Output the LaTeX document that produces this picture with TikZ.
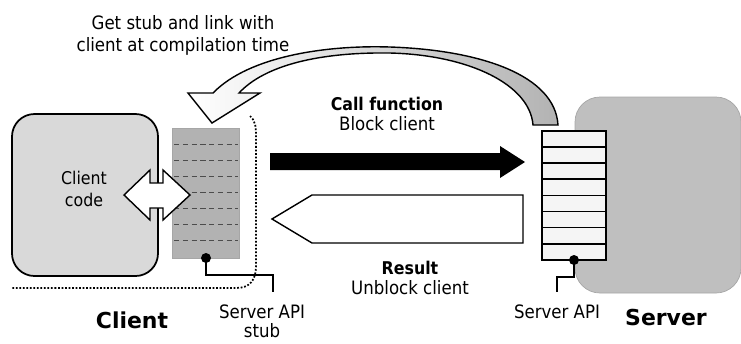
\documentclass[tikz,border=0pt]{standalone}
\usepackage{fontspec}
\setmainfont{DejaVu Sans Condensed}
\newfontfamily\headfont{DejaVu Sans}
\usepackage{tikz}
\usetikzlibrary{calc}

\tikzset{
	txt/.style={font=\fontsize{10.5}{12}\selectfont, align=center, inner sep=0pt},
	boldtxt/.style={font=\bfseries\fontsize{10}{12}\selectfont, inner sep=0pt},
	bigtxt/.style={font=\headfont\bfseries\fontsize{12.5}{14}\selectfont, inner sep=0pt},
	apirow/.style={fill=gray!8, draw=black, line width=1pt},
	pin/.style={line width=0.6pt},
}

\begin{document}
\begin{tikzpicture}[x=0.02cm, y=-0.02cm]
		%%%%% START %%%%%
		\useasboundingbox (0,0) rectangle (741,343);
		
		% server side
		\draw[fill=gray!50, draw=gray!70, rounded corners=0.5cm] (575,97) rectangle (741,293);
		\foreach \i in {0,...,7}
			\draw[apirow] (542,{131+16.1*\i}) rectangle (606,{131+16.1*(\i+1)});
		
		% client side
		\draw[fill=gray!30, line width=1pt, rounded corners=0.45cm] (12,114) rectangle (158,276);
		\draw[fill=gray!60, draw=gray!70] (172,128) rectangle (239,258);
		\foreach \i in {1,...,7}
			\draw[black!70, densely dashed, line width=0.5pt] (174,{128+16.1*\i}) -- (238,{128+16.1*\i});
		\draw[densely dotted, line width=1pt] (250,116) .. controls (256,121) and (256,128) .. (256,138)
			-- (256,266) .. controls (256,280) and (250,288) .. (236,288) -- (12,288);
		
		% link arrow
		\draw[line width=0.8pt, left color=white, right color=gray!60]
			(213,93) .. controls (250,55) and (330,45) .. (390,47)
			.. controls (480,50) and (555,75) .. (558,125) -- (533,125)
			.. controls (530,85) and (470,55) .. (390,53)
			.. controls (320,52) and (265,65) .. (239,93)
			-- (260,93) -- (212,123) -- (188,93) -- cycle;
		
		% client code <-> stub
		\draw[fill=white, line width=0.8pt] (124,195) -- (150,170) -- (150,183) -- (163,183) -- (163,170)
			-- (190,195) -- (163,220) -- (163,208) -- (150,208) -- (150,220) -- cycle;
		
		% call and result
		\fill[black] (270,153) -- (500,153) -- (500,146) -- (525,162) -- (500,178) -- (500,170) -- (270,170) -- cycle;
		\draw[fill=white, line width=0.8pt] (272,219) -- (312,195) -- (523,195) -- (523,243) -- (312,243) -- cycle;
		
		% pins
		\coordinate (stubpin) at (206,258);
		\coordinate (stubend) at (273,292);
		\coordinate (apipin) at (574,260);
		\coordinate (apiend) at (557,292);
		\draw[pin] (stubpin) -- ++(0,17) -| (stubend);
		\draw[pin] (apipin) -- ++(0,17) -| (apiend);
		\fill (stubpin) circle (5);
		\fill (apipin) circle (5);
		
		% labels
		\node[txt, font=\fontsize{10.5}{12.5}\selectfont] (linktxt) at (183,35) {Get stub and link with\\client at compilation time};
		\node[txt, font=\fontsize{10}{12.5}\selectfont] (codetxt) at (84,189) {Client\\code};
		\node[boldtxt] (calltxt) at (387,104) {Call function};
		\node[txt] (blocktxt) at (387,124) {Block client};
		\node[boldtxt] (resulttxt) at (410,268) {Result};
		\node[txt] (unblocktxt) at (410,288) {Unblock client};
		\node[txt, font=\fontsize{10.5}{11}\selectfont] (stubtxt) at (262,321) {Server API\\stub};
		\node[txt] (apitxt) at (557,312) {Server API};
		\node[bigtxt] (clienttxt) at (132,320) {Client};
		\node[bigtxt] (servertxt) at (666,317) {Server};
		%%%%% END %%%%%
\end{tikzpicture}
\end{document}
